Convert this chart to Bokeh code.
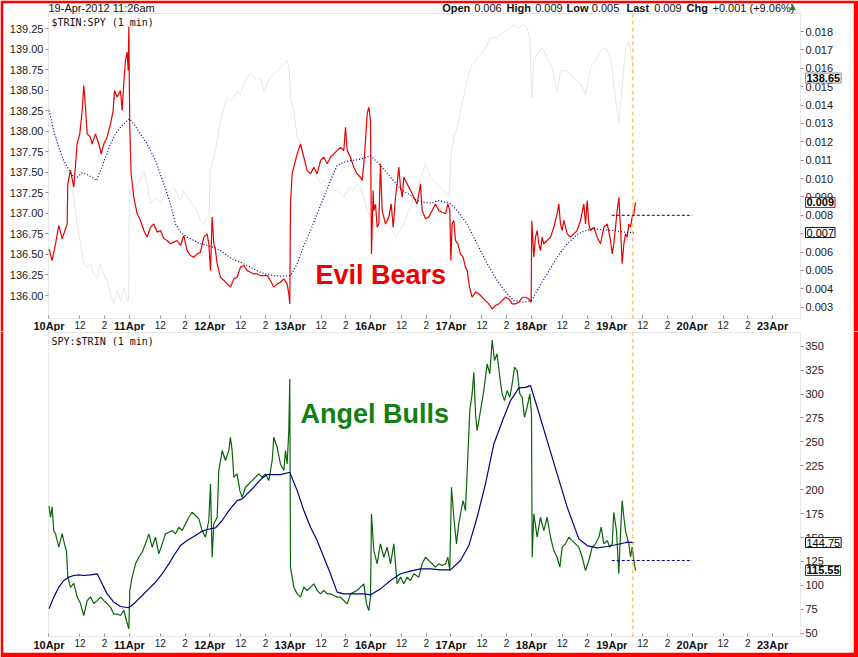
from bokeh.plotting import figure
from bokeh.models import (Range1d, LinearAxis, FixedTicker, NumeralTickFormatter,
                          Label, LabelSet, ColumnDataSource, BoxAnnotation)
from bokeh.layouts import column
from bokeh.core.properties import value
from bokeh.embed import file_html
from bokeh.resources import INLINE

FONT = "Liberation Sans"
MONO = "DejaVu Sans Mono"

# ------------------------------------------------------------------ data
# x = trading session index (0 = 10 Apr 09:30, 1 unit = one 09:30-16:00 session)
day_labels = ["10Apr", "11Apr", "12Apr", "13Apr", "16Apr",
              "17Apr", "18Apr", "19Apr", "20Apr", "23Apr"]
session_tick_offsets = [0.385, 0.692]
session_tick_labels = ["12", "2"]

header_date = "19-Apr-2012 11:26am"
header_fields = [("Open", "0.006"), ("High", "0.009"), ("Low", "0.005"),
                 ("Last", "0.009"), ("Chg", "+0.001 (+9.06%)")]
top_title = "$TRIN:SPY (1 min)"
bottom_title = "SPY:$TRIN (1 min)"

# $TRIN:SPY ratio, in thousandths
trin_spy = [
    (0.000, 6.17), (0.039, 5.54), (0.081, 6.45), (0.122, 7.44), (0.164, 6.72), (0.205, 7.26),
    (0.226, 7.53), (0.234, 9.71), (0.267, 10.44), (0.309, 9.53), (0.350, 11.88), (0.383, 12.43),
    (0.413, 13.70), (0.433, 15.06), (0.454, 13.88), (0.475, 12.43), (0.516, 12.25), (0.537, 11.88),
    (0.578, 12.43), (0.620, 11.88), (0.649, 11.34), (0.682, 11.88), (0.723, 12.25), (0.765, 12.97),
    (0.798, 13.70), (0.815, 14.79), (0.848, 14.43), (0.889, 14.79), (0.910, 13.70), (0.931, 15.24),
    (0.951, 16.42), (0.972, 16.87), (0.985, 15.88), (0.993, 18.27), (1.005, 12.79), (1.022, 10.25),
    (1.055, 8.98), (1.097, 8.08), (1.138, 7.72), (1.180, 7.17), (1.221, 6.81), (1.262, 7.35),
    (1.304, 7.53), (1.345, 7.08), (1.387, 7.17), (1.428, 6.72), (1.470, 6.63), (1.511, 6.45),
    (1.553, 6.54), (1.594, 6.63), (1.636, 6.36), (1.677, 6.90), (1.718, 6.08), (1.760, 5.81),
    (1.801, 5.72), (1.843, 5.90), (1.884, 5.99), (1.926, 6.81), (1.967, 6.99), (1.988, 6.45),
    (2.009, 4.99), (2.029, 7.90), (2.050, 6.45), (2.071, 6.08), (2.092, 5.36), (2.133, 4.63),
    (2.175, 4.45), (2.216, 4.27), (2.257, 4.09), (2.299, 4.54), (2.340, 4.63), (2.382, 5.18),
    (2.423, 5.27), (2.465, 4.99), (2.506, 4.90), (2.548, 4.81), (2.589, 4.81), (2.631, 4.72),
    (2.672, 4.72), (2.714, 4.72), (2.755, 4.45), (2.796, 4.09), (2.838, 4.27), (2.879, 4.36),
    (2.921, 4.54), (2.962, 4.27), (2.983, 3.73), (2.995, 3.18), (3.004, 8.62), (3.024, 10.25),
    (3.045, 10.62), (3.087, 11.34), (3.128, 11.88), (3.170, 11.16), (3.211, 10.44), (3.253, 10.25),
    (3.294, 10.62), (3.335, 10.25), (3.377, 10.98), (3.418, 11.16), (3.460, 10.80), (3.501, 11.16),
    (3.543, 11.34), (3.584, 11.52), (3.626, 11.70), (3.667, 11.52), (3.688, 12.79), (3.709, 11.52),
    (3.750, 11.16), (3.791, 10.62), (3.833, 10.25), (3.874, 10.07), (3.895, 9.89), (3.916, 10.80),
    (3.937, 12.07), (3.957, 13.52), (3.978, 13.88), (3.999, 13.16), (4.011, 5.90), (4.032, 9.35),
    (4.040, 8.26), (4.061, 8.60), (4.082, 7.35), (4.102, 7.53), (4.123, 10.80), (4.144, 8.26),
    (4.185, 7.53), (4.227, 7.90), (4.256, 8.62), (4.281, 7.35), (4.310, 8.98), (4.330, 9.71),
    (4.351, 10.62), (4.372, 9.53), (4.393, 8.98), (4.413, 10.07), (4.455, 9.71), (4.496, 9.35),
    (4.538, 8.98), (4.579, 8.62), (4.621, 9.71), (4.641, 8.26), (4.683, 7.81), (4.724, 7.90),
    (4.766, 8.26), (4.807, 8.62), (4.849, 8.26), (4.890, 8.17), (4.932, 8.08), (4.961, 8.62),
    (4.985, 8.26), (4.998, 5.54), (5.014, 7.53), (5.035, 7.72), (5.056, 6.63), (5.085, 6.45),
    (5.118, 5.90), (5.151, 5.72), (5.180, 5.18), (5.201, 4.99), (5.230, 4.09), (5.263, 3.54),
    (5.305, 3.82), (5.346, 3.73), (5.388, 3.54), (5.429, 3.36), (5.470, 3.18), (5.512, 2.91),
    (5.553, 3.09), (5.595, 3.18), (5.636, 3.36), (5.678, 3.54), (5.719, 3.45), (5.761, 3.18),
    (5.802, 3.18), (5.844, 3.27), (5.885, 3.54), (5.927, 3.54), (5.968, 3.45), (5.997, 3.27),
    (6.005, 7.72), (6.030, 5.72), (6.051, 6.81), (6.072, 7.17), (6.092, 6.45), (6.113, 6.08),
    (6.134, 6.81), (6.155, 6.45), (6.196, 6.63), (6.238, 6.81), (6.279, 7.35), (6.320, 8.08),
    (6.341, 8.62), (6.362, 7.53), (6.383, 7.17), (6.404, 7.72), (6.445, 6.99), (6.486, 6.81),
    (6.528, 6.99), (6.569, 7.17), (6.611, 7.72), (6.652, 8.62), (6.673, 7.53), (6.694, 8.80),
    (6.714, 7.53), (6.735, 7.17), (6.777, 7.35), (6.818, 6.81), (6.860, 6.45), (6.901, 7.35),
    (6.943, 7.53), (6.984, 6.63), (7.005, 5.90), (7.025, 6.45), (7.046, 7.35), (7.067, 8.26),
    (7.088, 8.98), (7.108, 7.35), (7.129, 5.36), (7.150, 6.45), (7.170, 6.99), (7.191, 6.81),
    (7.212, 7.53), (7.233, 7.35), (7.253, 7.90), (7.274, 8.08), (7.295, 8.70),
]

# moving average of $TRIN:SPY, in thousandths
trin_spy_ma = [
    (0.000, 13.70), (0.060, 12.61), (0.122, 11.70), (0.184, 10.98), (0.247, 10.47), (0.309, 10.07),
    (0.350, 10.07), (0.413, 10.31), (0.475, 10.22), (0.537, 10.07), (0.591, 9.89), (0.641, 10.44),
    (0.703, 11.16), (0.765, 11.88), (0.827, 12.43), (0.889, 12.79), (0.951, 13.07), (1.001, 13.25),
    (1.055, 12.97), (1.138, 12.43), (1.221, 11.88), (1.325, 10.98), (1.428, 9.71), (1.511, 8.62),
    (1.573, 7.53), (1.636, 7.08), (1.718, 6.81), (1.801, 6.63), (1.884, 6.45), (1.967, 6.36),
    (2.050, 6.26), (2.133, 6.08), (2.216, 5.81), (2.299, 5.58), (2.382, 5.45), (2.465, 5.27),
    (2.548, 5.09), (2.631, 4.90), (2.714, 4.78), (2.796, 4.72), (2.879, 4.69), (3.004, 4.72),
    (3.087, 5.36), (3.170, 6.36), (3.253, 7.17), (3.335, 8.08), (3.418, 8.98), (3.501, 9.89),
    (3.584, 10.71), (3.667, 10.89), (3.750, 10.98), (3.833, 11.02), (3.916, 11.11), (3.999, 11.25),
    (4.123, 10.71), (4.248, 10.07), (4.372, 9.44), (4.496, 9.08), (4.579, 8.80), (4.662, 8.71),
    (4.745, 8.66), (4.849, 8.80), (4.932, 8.71), (4.994, 8.62), (5.077, 8.26), (5.201, 7.53),
    (5.325, 6.45), (5.450, 5.36), (5.574, 4.45), (5.699, 3.73), (5.782, 3.36), (5.906, 3.27),
    (6.001, 3.36), (6.072, 3.91), (6.196, 4.81), (6.320, 5.72), (6.445, 6.45), (6.569, 6.95),
    (6.694, 7.21), (6.777, 7.26), (6.901, 7.21), (7.025, 7.17), (7.150, 7.08), (7.274, 7.06),
]

# SPY price (grey line, left axis)
spy_price = [
    (0.000, 138.29), (0.060, 138.01), (0.122, 137.76), (0.184, 137.60), (0.247, 137.48),
    (0.309, 137.20), (0.350, 136.87), (0.392, 136.63), (0.433, 136.39), (0.475, 136.34),
    (0.516, 136.39), (0.558, 136.26), (0.599, 136.22), (0.641, 136.39), (0.682, 136.26),
    (0.723, 136.18), (0.765, 136.02), (0.806, 135.90), (0.848, 136.06), (0.889, 135.94),
    (0.931, 136.10), (0.972, 135.94), (0.990, 135.94), (1.001, 137.28), (1.034, 137.20),
    (1.097, 137.36), (1.138, 137.40), (1.180, 137.52), (1.221, 137.36), (1.262, 137.12),
    (1.325, 137.20), (1.387, 137.12), (1.449, 137.24), (1.511, 137.28), (1.553, 137.32),
    (1.594, 137.24), (1.636, 137.16), (1.677, 137.28), (1.718, 137.20), (1.781, 137.12),
    (1.843, 137.03), (1.884, 136.91), (1.926, 136.87), (1.967, 136.95), (1.992, 136.99),
    (2.004, 137.52), (2.050, 137.68), (2.092, 137.89), (2.133, 138.13), (2.175, 138.29),
    (2.216, 138.41), (2.257, 138.37), (2.299, 138.41), (2.340, 138.49), (2.382, 138.45),
    (2.423, 138.58), (2.465, 138.66), (2.506, 138.70), (2.548, 138.66), (2.589, 138.62),
    (2.631, 138.66), (2.672, 138.49), (2.714, 138.58), (2.755, 138.66), (2.796, 138.70),
    (2.838, 138.74), (2.879, 138.78), (2.921, 138.82), (2.962, 138.86), (2.987, 138.78),
    (3.004, 138.41), (3.045, 138.25), (3.087, 137.93), (3.128, 137.85), (3.170, 137.60),
    (3.211, 137.52), (3.253, 137.56), (3.294, 137.52), (3.335, 137.44), (3.377, 137.36),
    (3.418, 137.40), (3.460, 137.36), (3.501, 137.32), (3.543, 137.28), (3.584, 137.28),
    (3.626, 137.24), (3.667, 137.20), (3.709, 137.28), (3.750, 137.32), (3.791, 137.28),
    (3.833, 137.36), (3.874, 137.32), (3.916, 137.20), (3.957, 137.03), (3.999, 136.95),
    (4.082, 136.99), (4.165, 136.87), (4.248, 136.83), (4.310, 136.71), (4.413, 136.87),
    (4.538, 137.20), (4.683, 137.60), (4.745, 137.44), (4.828, 137.36), (4.911, 137.28),
    (4.973, 137.20), (5.003, 137.72), (5.035, 137.93), (5.077, 138.05), (5.118, 138.25),
    (5.181, 138.53), (5.243, 138.78), (5.305, 138.86), (5.367, 138.94), (5.429, 139.02),
    (5.491, 139.14), (5.574, 139.14), (5.657, 139.22), (5.719, 139.24), (5.782, 139.30),
    (5.844, 139.26), (5.906, 139.30), (5.948, 139.26), (5.981, 139.14), (6.006, 138.41),
    (6.030, 138.86), (6.072, 138.94), (6.134, 139.02), (6.196, 138.90), (6.258, 138.78),
    (6.320, 138.49), (6.362, 138.74), (6.424, 138.74), (6.486, 138.70), (6.549, 138.62),
    (6.611, 138.58), (6.673, 138.45), (6.735, 138.78), (6.797, 138.86), (6.860, 138.98),
    (6.922, 139.02), (6.984, 138.90), (7.046, 138.41), (7.087, 138.09), (7.129, 138.53),
    (7.170, 138.98), (7.212, 139.10), (7.253, 138.86), (7.282, 138.65),
]

# SPY:$TRIN ratio
spy_trin = [
    (0.000, 183.0), (0.019, 171.0), (0.039, 182.0), (0.060, 157.0), (0.081, 154.0), (0.122, 140.0),
    (0.164, 154.0), (0.193, 143.0), (0.218, 136.0), (0.234, 109.0), (0.267, 98.0), (0.309, 102.0),
    (0.350, 88.0), (0.392, 81.0), (0.433, 68.5), (0.475, 84.0), (0.516, 88.0), (0.558, 81.0),
    (0.599, 84.0), (0.641, 88.0), (0.682, 84.0), (0.723, 81.0), (0.765, 77.0), (0.806, 70.0),
    (0.848, 70.0), (0.889, 68.5), (0.931, 74.0), (0.964, 63.0), (0.993, 54.5), (1.005, 94.6),
    (1.034, 108.6), (1.076, 122.5), (1.117, 129.4), (1.159, 134.7), (1.200, 143.4), (1.242, 153.8),
    (1.283, 139.9), (1.325, 150.3), (1.366, 132.9), (1.408, 143.4), (1.449, 153.8), (1.491, 155.6),
    (1.532, 157.3), (1.573, 153.8), (1.615, 160.8), (1.656, 157.3), (1.698, 164.3), (1.739, 171.2),
    (1.781, 176.4), (1.822, 173.0), (1.864, 169.5), (1.905, 157.3), (1.946, 150.3), (1.988, 167.8),
    (2.009, 206.0), (2.029, 129.4), (2.050, 164.3), (2.092, 171.2), (2.112, 220.0), (2.154, 240.9),
    (2.195, 230.5), (2.237, 240.9), (2.257, 254.8), (2.278, 240.9), (2.299, 213.0), (2.340, 216.5),
    (2.374, 199.0), (2.403, 192.1), (2.444, 202.6), (2.486, 206.0), (2.527, 209.5), (2.568, 213.0),
    (2.610, 216.5), (2.651, 213.0), (2.693, 216.5), (2.734, 209.5), (2.776, 230.5), (2.796, 254.8),
    (2.838, 244.3), (2.879, 226.9), (2.921, 220.0), (2.941, 240.9), (2.962, 226.9), (2.983, 261.8),
    (2.995, 315.8), (3.004, 119.0), (3.045, 98.1), (3.087, 91.1), (3.128, 87.7), (3.170, 98.1),
    (3.211, 94.6), (3.253, 98.1), (3.294, 101.6), (3.335, 94.6), (3.377, 91.1), (3.418, 94.6),
    (3.460, 91.1), (3.501, 91.1), (3.543, 89.4), (3.584, 87.7), (3.626, 87.7), (3.667, 84.2),
    (3.709, 80.7), (3.750, 91.1), (3.791, 92.9), (3.833, 94.6), (3.874, 98.1), (3.916, 101.6),
    (3.949, 80.7), (3.978, 73.7), (3.999, 87.7), (4.011, 174.7), (4.040, 136.4), (4.082, 122.5),
    (4.115, 139.9), (4.123, 143.4), (4.165, 129.4), (4.206, 139.9), (4.248, 122.5), (4.289, 143.4),
    (4.330, 101.6), (4.372, 108.6), (4.413, 101.6), (4.455, 108.6), (4.496, 105.1), (4.538, 112.1),
    (4.600, 108.6), (4.641, 122.5), (4.683, 129.4), (4.724, 126.0), (4.766, 122.5), (4.807, 119.0),
    (4.849, 122.5), (4.890, 120.8), (4.932, 122.5), (4.961, 129.4), (4.985, 115.5), (5.006, 202.6),
    (5.035, 171.2), (5.068, 143.4), (5.097, 164.3), (5.126, 178.2), (5.151, 188.6), (5.180, 178.2),
    (5.209, 233.9), (5.234, 282.7), (5.263, 300.1), (5.284, 322.7), (5.305, 279.2), (5.325, 261.8),
    (5.367, 282.7), (5.408, 303.6), (5.450, 331.5), (5.483, 321.0), (5.512, 356.5), (5.541, 335.0),
    (5.574, 342.0), (5.607, 317.5), (5.636, 300.1), (5.665, 293.1), (5.698, 303.6), (5.731, 296.6),
    (5.761, 310.5), (5.790, 328.0), (5.823, 324.5), (5.856, 300.1), (5.885, 296.6), (5.914, 275.7),
    (5.947, 286.2), (5.981, 300.1), (6.001, 279.2), (6.010, 129.4), (6.030, 174.7), (6.072, 150.3),
    (6.113, 171.2), (6.155, 157.3), (6.196, 171.2), (6.238, 150.3), (6.279, 136.4), (6.320, 129.4),
    (6.354, 119.0), (6.383, 139.9), (6.424, 143.4), (6.466, 150.3), (6.507, 146.8), (6.549, 143.4),
    (6.590, 139.9), (6.632, 129.4), (6.673, 115.5), (6.715, 126.0), (6.756, 139.9), (6.797, 143.4),
    (6.839, 150.3), (6.868, 160.8), (6.901, 143.4), (6.943, 146.8), (6.976, 139.9), (7.005, 143.4),
    (7.025, 176.4), (7.058, 157.3), (7.087, 112.1), (7.108, 153.8), (7.129, 188.6), (7.150, 171.2),
    (7.170, 157.3), (7.191, 150.3), (7.212, 143.4), (7.233, 129.4), (7.253, 139.9), (7.274, 126.0),
    (7.295, 115.55),
]

# moving average of SPY:$TRIN
spy_trin_ma = [
    (0.000, 75.5), (0.060, 87.7), (0.122, 98.1), (0.184, 105.1), (0.247, 108.6), (0.309, 110.3),
    (0.371, 111.0), (0.433, 110.3), (0.516, 111.0), (0.599, 112.1), (0.661, 101.6), (0.723, 91.1),
    (0.806, 82.4), (0.889, 77.9), (0.993, 76.6), (1.076, 82.4), (1.159, 89.4), (1.242, 96.3),
    (1.325, 103.3), (1.408, 112.1), (1.491, 122.5), (1.553, 131.2), (1.636, 141.6), (1.718, 146.8),
    (1.801, 151.0), (1.884, 155.6), (1.967, 158.4), (2.071, 160.1), (2.154, 167.8), (2.237, 178.2),
    (2.340, 188.6), (2.403, 190.4), (2.465, 195.6), (2.548, 202.6), (2.631, 210.6), (2.714, 215.8),
    (2.796, 215.8), (2.879, 215.8), (2.995, 218.2), (3.087, 199.0), (3.170, 178.2), (3.253, 160.8),
    (3.335, 146.8), (3.418, 129.4), (3.501, 112.1), (3.584, 92.9), (3.667, 91.1), (3.750, 91.1),
    (3.833, 91.1), (3.916, 91.1), (3.999, 90.1), (4.123, 96.3), (4.248, 105.1), (4.372, 112.1),
    (4.496, 114.8), (4.621, 117.3), (4.745, 117.3), (4.869, 116.2), (4.994, 116.2), (5.118, 126.0),
    (5.222, 141.6), (5.325, 171.2), (5.429, 206.0), (5.533, 247.8), (5.657, 275.7), (5.740, 293.1),
    (5.844, 306.4), (5.927, 307.0), (5.989, 308.8), (6.072, 286.2), (6.196, 251.3), (6.320, 216.5),
    (6.445, 181.7), (6.590, 148.6), (6.694, 141.6), (6.818, 139.2), (6.943, 140.6), (7.067, 142.7),
    (7.191, 145.1), (7.274, 144.75),
]

trin_spy_prev_close = 8.0      # thousandths
spy_trin_prev_close = 126.0
now_marker = 7.262             # 19 Apr 11:26

top_left_ticks = [136.00, 136.25, 136.50, 136.75, 137.00, 137.25, 137.50,
                  137.75, 138.00, 138.25, 138.50, 138.75, 139.00, 139.25]
top_right_ticks = [0.003, 0.004, 0.005, 0.006, 0.007, 0.008, 0.009, 0.010,
                   0.011, 0.012, 0.013, 0.014, 0.015, 0.016, 0.017, 0.018]
bottom_ticks = [50, 75, 100, 125, 150, 175, 200, 225, 250, 275, 300, 325, 350]

# visible value spans of the plot areas
X0, X1 = -0.006, 9.347
TRIN_LO, TRIN_HI = 0.002385, 0.01898
SPY_LO, SPY_HI = 135.72, 139.436
INV_LO, INV_HI = 46.55, 364.3

# ------------------------------------------------------------------ layout (page pixels)
W = 858
H1, H2 = 331, 326
B_LEFT, B_TOP, B_RIGHT, B_BOTTOM = 3, 3, 5, 5
PL, PR = 48, 800                 # plot-area left / right
FL, FR = B_LEFT, W - B_RIGHT
PT1, PB1 = 13, 318               # top plot area
F1T, F1B = B_TOP, H1
PT2, PB2 = 332, 636              # bottom plot area
F2T, F2B = H1, H1 + H2 - B_BOTTOM


def frame_range(lo, hi, p_lo, p_hi, f_lo, f_hi):
    """Range of the whole frame so that [lo, hi] spans pixels [p_lo, p_hi]."""
    ppu = (p_hi - p_lo) / (hi - lo)
    return Range1d(lo - (p_lo - f_lo) / ppu, hi + (f_hi - p_hi) / ppu)


def yrange(lo, hi, pt, pb, ft, fb):
    # pixel y grows downwards
    return frame_range(lo, hi, -pb, -pt, -fb, -ft)


def unzip(pairs, scale=1.0):
    return [a for a, _ in pairs], [b * scale for _, b in pairs]


RED = "#e60000"
NAVY = "#000080"
GREEN = "#0a640a"
GOLD = "#f0b42a"
FRAME = "#b4b4b4"
TICK = "#909090"

n_days = len(day_labels)
x_major = [k + o for k in range(n_days) for o in session_tick_offsets if k + o <= X1]
x_over = {k + o: lab for k in range(n_days)
          for o, lab in zip(session_tick_offsets, session_tick_labels) if k + o <= X1}


def make_fig(h, y_rng, top_b, bot_b):
    p = figure(width=W, height=h, output_backend="svg", toolbar_location=None,
               x_range=frame_range(X0, X1, PL, PR, FL, FR), y_range=y_rng,
               y_axis_location="right", min_border_left=B_LEFT, min_border_right=B_RIGHT,
               min_border_top=top_b, min_border_bottom=bot_b)
    p.outline_line_color = None
    p.background_fill_color = "white"
    p.border_fill_color = "#ff0000"
    p.xgrid.visible = False
    p.ygrid.visible = False
    return p


def style_y(ax, loc):
    ax.fixed_location = loc
    ax.axis_line_color = None
    ax.major_tick_line_color = TICK
    ax.minor_tick_line_color = None
    ax.major_tick_in = 0
    ax.major_tick_out = 3
    ax.major_label_standoff = 2
    ax.major_label_text_font = FONT
    ax.major_label_text_font_size = "11px"
    ax.major_label_text_color = "#1a1a1a"


def style_x(p, loc, fb, label_py):
    ax = p.xaxis[0]
    ax.fixed_location = loc
    ax.ticker = FixedTicker(ticks=x_major, minor_ticks=list(range(n_days)))
    ax.major_label_overrides = x_over
    ax.axis_line_color = None
    ax.major_tick_line_color = TICK
    ax.minor_tick_line_color = TICK
    ax.major_tick_in = 3
    ax.major_tick_out = 0
    ax.minor_tick_in = 3
    ax.minor_tick_out = 0
    ax.major_label_standoff = 2
    ax.major_label_text_font = FONT
    ax.major_label_text_font_size = "10px"
    ax.major_label_text_color = "#1a1a1a"
    src = ColumnDataSource(dict(x=list(range(n_days)), text=day_labels))
    p.add_layout(LabelSet(x="x", y=fb - label_py, y_units="screen", text="text", source=src,
                          text_align="center", text_baseline="middle",
                          text_font=value(FONT), text_font_size=value("11px"),
                          text_font_style="bold", text_color="#111111"))


def scr_label(p, px, py, fb, text, size="11px", bold=False, color="#111111",
              font=FONT, baseline="middle"):
    p.add_layout(Label(x=px - FL, y=fb - py, x_units="screen", y_units="screen", text=text,
                       text_font=font, text_font_size=size,
                       text_font_style="bold" if bold else "normal",
                       text_color=color, text_baseline=baseline))


def value_box(p, yv, text, color, bold, range_name="default"):
    p.add_layout(Label(x=805 - FL, x_units="screen", y=yv, y_range_name=range_name,
                       text=text, text_align="left", text_baseline="middle",
                       text_font=FONT, text_font_size="11px",
                       text_font_style="bold" if bold else "normal",
                       text_color="#000000", background_fill_color="white",
                       border_line_color=color, border_line_width=1, padding=1))


# ------------------------------------------------------------------ top panel
p1 = make_fig(H1, yrange(TRIN_LO, TRIN_HI, PT1, PB1, F1T, F1B), B_TOP, 0)
p1.extra_y_ranges = {"spy": yrange(SPY_LO, SPY_HI, PT1, PB1, F1T, F1B)}
style_x(p1, TRIN_LO, F1B, 325)
ya = p1.yaxis[0]
ya.ticker = FixedTicker(ticks=top_right_ticks)
ya.formatter = NumeralTickFormatter(format="0.000")
style_y(ya, X1)
la = LinearAxis(y_range_name="spy", ticker=FixedTicker(ticks=top_left_ticks),
                formatter=NumeralTickFormatter(format="0.00"))
style_y(la, X0)
p1.add_layout(la, "left")

p1.add_layout(BoxAnnotation(left=X0, right=X1, bottom=TRIN_LO, top=TRIN_HI,
                            fill_color=None, line_color=FRAME, line_width=1))
gx, gy = unzip(spy_price)
p1.line(gx, gy, y_range_name="spy", line_color="#e6e6e6", line_width=1)
rx, ry = unzip(trin_spy, 0.001)
p1.line(rx, ry, line_color=RED, line_width=1.2)
mx, my = unzip(trin_spy_ma, 0.001)
p1.line(mx, my, line_color=NAVY, line_width=1.2, line_dash="1 2")
d19 = day_labels.index("19Apr")
p1.segment(x0=[d19], x1=[d19 + 1], y0=[trin_spy_prev_close * 0.001],
           y1=[trin_spy_prev_close * 0.001], line_color=NAVY, line_dash="3 2", line_width=1)
p1.segment(x0=[now_marker], x1=[now_marker], y0=[TRIN_LO], y1=[TRIN_HI],
           line_color=GOLD, line_dash="4 3", line_width=1)

scr_label(p1, 51, 16, F1B, top_title, size="10px", font=MONO, baseline="top")
scr_label(p1, 315, 274, F1B, "Evil Bears", size="27px", bold=True, color="#ee0000")

# header line
scr_label(p1, 48, 7, F1B, header_date)
name_x = [441.7, 506, 566, 626, 686]
val_x = [473.7, 534.7, 591.3, 653.7, 712]
for (name, val), x0, x1 in zip(header_fields, name_x, val_x):
    scr_label(p1, x0, 7, F1B, name, bold=True)
    scr_label(p1, x1, 7, F1B, val)
scr_label(p1, 789, 6, F1B, "\u25b2", size="8px", font="DejaVu Sans", color="#3a6e3a")

value_box(p1, spy_price[-1][1], f"{spy_price[-1][1]:.2f}", "#8a8a8a", True, "spy")
value_box(p1, trin_spy[-1][1] * 0.001, f"{trin_spy[-1][1] * 0.001:.3f}", "#e00000", True)
value_box(p1, trin_spy_ma[-1][1] * 0.001, f"{trin_spy_ma[-1][1] * 0.001:.3f}", NAVY, False)

# ------------------------------------------------------------------ bottom panel
p2 = make_fig(H2, yrange(INV_LO, INV_HI, PT2, PB2, F2T, F2B), 0, B_BOTTOM)
style_x(p2, INV_LO, F2B, 644)
yb = p2.yaxis[0]
yb.ticker = FixedTicker(ticks=bottom_ticks)
yb.formatter = NumeralTickFormatter(format="0")
style_y(yb, X1)

p2.add_layout(BoxAnnotation(left=X0, right=X1, bottom=INV_LO, top=INV_HI,
                            fill_color=None, line_color=FRAME, line_width=1))
bx, by = unzip(spy_trin)
p2.line(bx, by, line_color=GREEN, line_width=1.2)
bmx, bmy = unzip(spy_trin_ma)
p2.line(bmx, bmy, line_color=NAVY, line_width=1.2)
p2.segment(x0=[d19], x1=[d19 + 1], y0=[spy_trin_prev_close], y1=[spy_trin_prev_close],
           line_color=NAVY, line_dash="3 2", line_width=1)
p2.segment(x0=[now_marker], x1=[now_marker], y0=[INV_LO], y1=[INV_HI],
           line_color=GOLD, line_dash="4 3", line_width=1)
scr_label(p2, 51, 335, F2B, bottom_title, size="10px", font=MONO, baseline="top")
scr_label(p2, 300, 413, F2B, "Angel Bulls", size="27px", bold=True, color="#128012")
value_box(p2, spy_trin_ma[-1][1], f"{spy_trin_ma[-1][1]:.2f}", NAVY, False)
value_box(p2, spy_trin[-1][1], f"{spy_trin[-1][1]:.2f}", "#0a640a", True)

layout = column(p1, p2)

open("out.html", "w").write(file_html(layout, INLINE))
